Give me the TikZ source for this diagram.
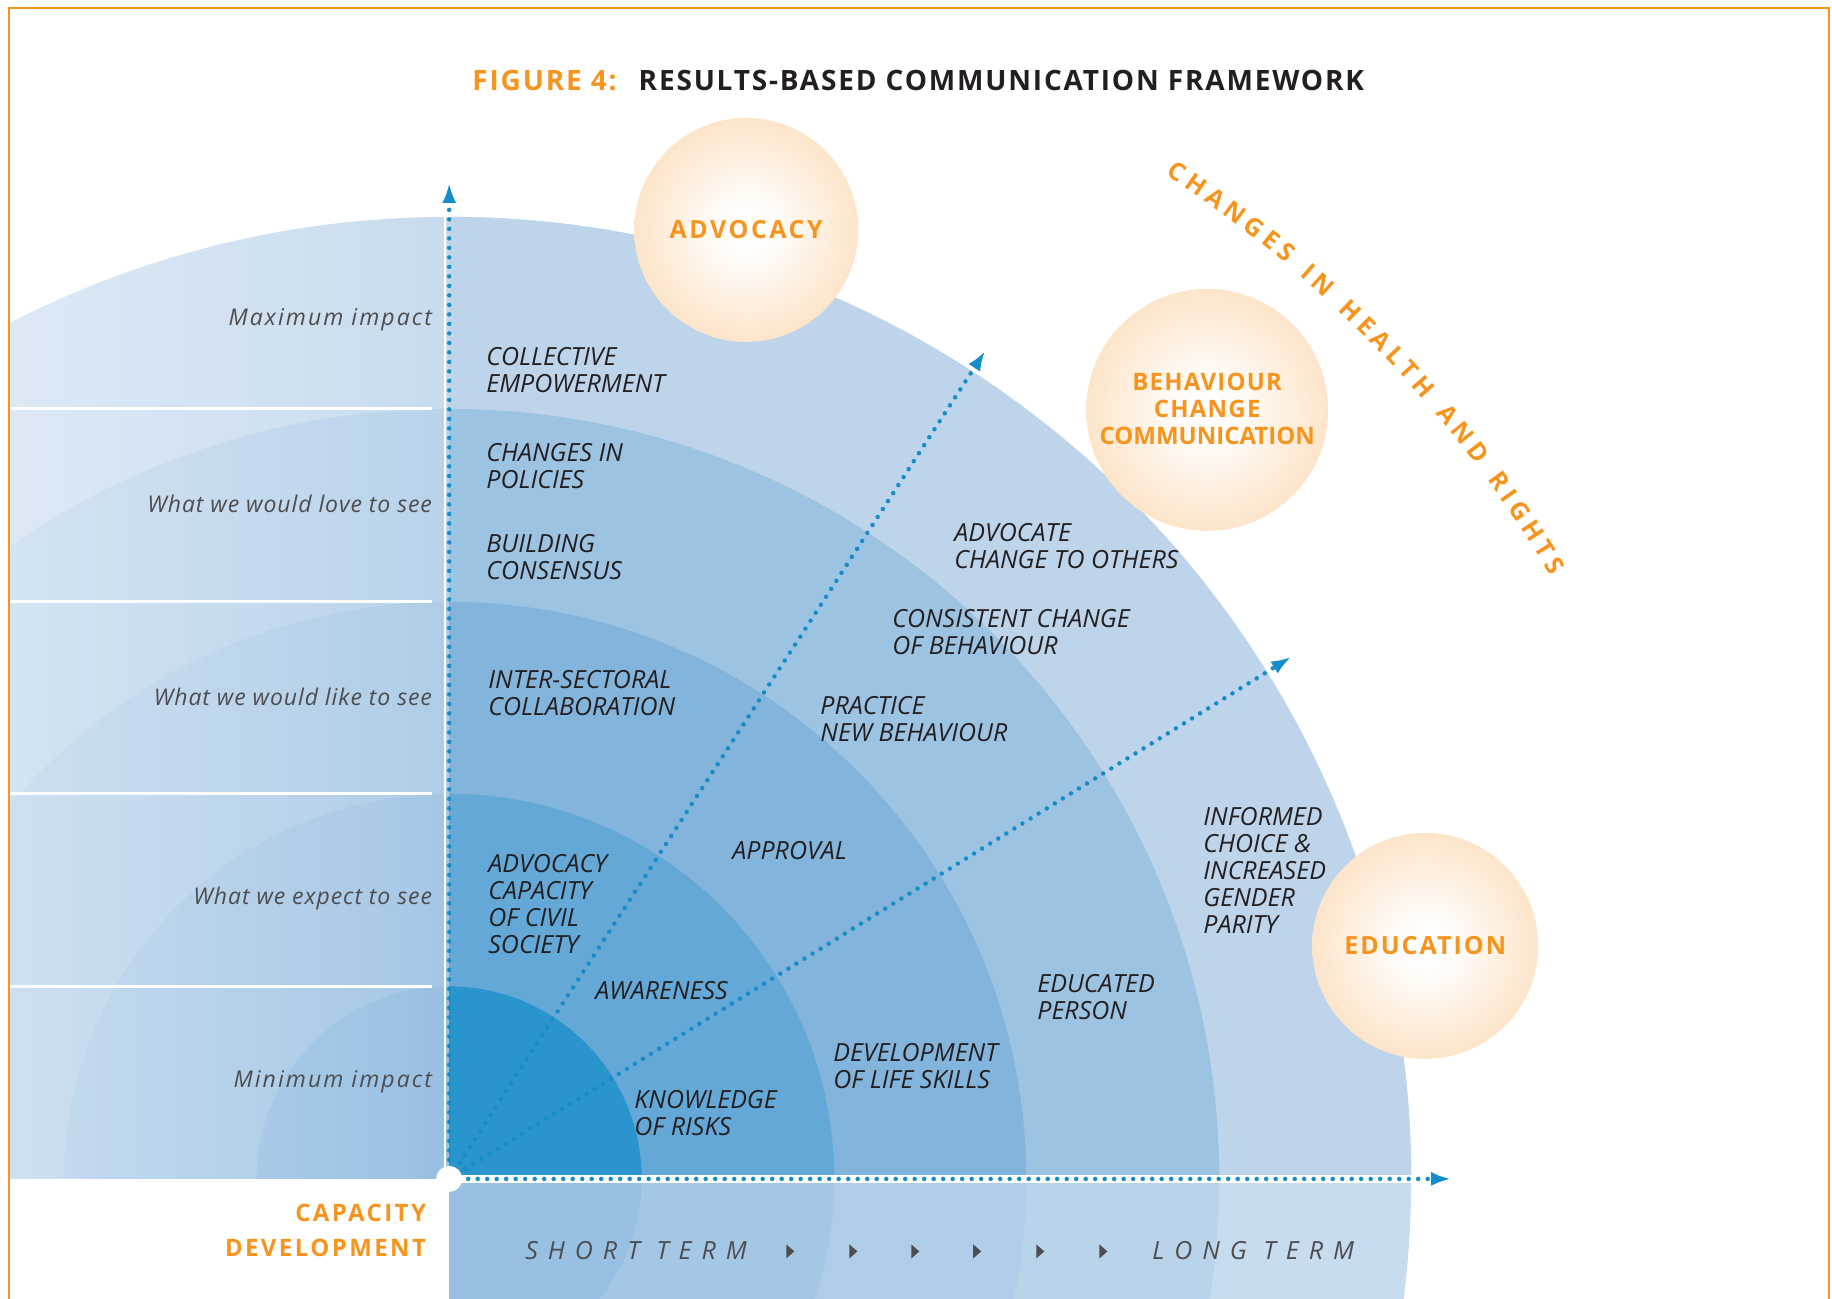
\documentclass[tikz,border=0pt]{standalone}
\usepackage{fontspec}
\setmainfont{Open Sans}
\newfontfamily\stagefont{Open Sans}
\newfontfamily\impactfont[LetterSpace=4]{Open Sans}
\newfontfamily\ballfont[LetterSpace=5]{Open Sans}
\newfontfamily\titlefont[LetterSpace=6.5]{Open Sans}
\newfontfamily\termfont[LetterSpace=40]{Open Sans}
\usepackage{tikz}
\usetikzlibrary{fadings}
\usetikzlibrary{calc}
\usetikzlibrary{arrows.meta}
\usetikzlibrary{decorations.text}
\tikzset{>={Latex[length=20pt,width=14pt]}}

\definecolor{ringA}{RGB}{42,149,204}
\definecolor{ringB}{RGB}{99,168,214}
\definecolor{ringC}{RGB}{131,180,219}
\definecolor{ringD}{RGB}{157,195,227}
\definecolor{ringE}{RGB}{189,212,234}
\definecolor{paleA}{RGB}{152,192,227}
\definecolor{paleB}{RGB}{165,199,230}
\definecolor{paleC}{RGB}{175,205,232}
\definecolor{paleD}{RGB}{185,211,235}
\definecolor{paleE}{RGB}{200,220,239}
\definecolor{dotblue}{RGB}{20,141,201}
\definecolor{unorange}{RGB}{247,148,29}
\definecolor{ballrim}{RGB}{251,197,137}
\definecolor{impactgray}{RGB}{77,77,79}
\definecolor{stageblack}{RGB}{35,31,32}

\pgfdeclareradialshading{ballshade}{\pgfpoint{0bp}{0bp}}{color(0bp)=(white); color(6bp)=(white!96!ballrim); color(50bp)=(ballrim)}

\tikzset{
	stage/.style={anchor=west, inner sep=0pt, align=left, text=stageblack,
		font=\stagefont\itshape\fontsize{25}{27}\selectfont},
	impact/.style={anchor=east, inner sep=0pt, text=impactgray,
		font=\impactfont\itshape\fontsize{23}{27}\selectfont},
	wideimpact/.style={impact, font=\impactfont\itshape\fontsize{23}{27}\selectfont\addfontfeature{LetterSpace=9}},
	ball/.style={circle, shading=ballshade, inner sep=0pt, align=center, text=unorange,
		font=\ballfont\bfseries\fontsize{24}{27}\selectfont},
	dotarrow/.style={->, dotblue, line width=4.5pt, line cap=round, dash pattern=on 0pt off 9.5pt},
	term/.style={anchor=west, inner sep=0pt, text=impactgray,
		font=\termfont\itshape\fontsize{25}{27}\selectfont}
}

\begin{document}
\begin{tikzpicture}[x=1pt,y=1pt]
	\useasboundingbox (-449.2,-120.1) rectangle (1382.8,1178.9);
	\begin{scope}
		\clip (-440,-121) rectangle (1380,1171);
		\foreach \r/\c in {962/paleE,770/paleD,577/paleC,385/paleB,192.5/paleA} {
			\fill[\c] (0,0) circle (\r);
		}
		\fill[white, path fading=east, fill opacity=0.38] (-440,0) rectangle (0,1000);
		\fill[white] (-450,-121) rectangle (0,0);
		\begin{scope}
			\clip (0,0) rectangle (1000,1000);
			\foreach \r/\c in {962/ringE,770/ringD,577/ringC,385/ringB,192.5/ringA} {
				\fill[\c] (0,0) circle (\r);
			}
		\end{scope}
	\end{scope}
	\foreach \h in {192.5,385,577,770} {
		\draw[white, line width=3pt] (-440,\h) -- (-17,\h);
	}
	% frame
	\draw[unorange, line width=1.5pt] (-440,-121) -- (-440,1171) -- (1380,1171) -- (1380,-121);

	% axes and arrows
	\coordinate (o) at (0,0);
	\coordinate (up) at (0,996);
	\coordinate (long) at (1002,0);
	\coordinate (steep) at (536,828);
	\coordinate (flat) at (842,522);
	\draw[white, line width=2pt] (-4,0) -- (-4,985);
	\draw[white, line width=8pt] (o) -- (990,0);
	\foreach \t in {up,long,steep,flat} {
		\draw[dotarrow] (o) -- (\t);
	}
	\fill[white] (o) circle (13);

	% title
	\node[font=\titlefont\bfseries\fontsize{28}{30}\selectfont, text=stageblack] (title) at (469,1098)
		{\textcolor{unorange}{FIGURE 4:}\hspace{22pt}RESULTS-BASED COMMUNICATION FRAMEWORK};

	% approaches
	\node[ball, minimum size=224pt, font=\ballfont\bfseries\fontsize{25}{27}\selectfont\addfontfeature{LetterSpace=10}]
		(advocacy) at (297,949) {\raisebox{-4pt}{ADVOCACY}};
	\node[ball, minimum size=242pt] (bcc) at (758,769)
		{\raisebox{3pt}{BEHAVIOUR}\\\raisebox{3pt}{CHANGE}\\\raisebox{3pt}{\addfontfeature{LetterSpace=0}COMMUNICATION}};
	\node[ball, minimum size=226pt, font=\ballfont\bfseries\fontsize{25}{27}\selectfont\addfontfeature{LetterSpace=8}]
		(education) at (976,233) {\raisebox{-2pt}{EDUCATION}};

	\path[decorate, decoration={text along path, text align=fit to path, text color=unorange,
		text={|\ballfont\bfseries\fontsize{25}{28}\selectfont|CHANGES IN HEALTH AND RIGHTS}}]
		($(40,-30)+(56.8:1236)$) arc[start angle=56.8, end angle=30.8, radius=1236];

	% impact levels
	\node[wideimpact] (maximum) at (-17,859) {Maximum impact};
	\node[impact] (love) at (-17,675) {What we would love to see};
	\node[impact] (like) at (-17,482) {What we would like to see};
	\node[impact] (expect) at (-17,280) {What we expect to see};
	\node[wideimpact] (minimum) at (-17,97) {Minimum impact};

	% results
	\node[stage] (empower) at (37,809) {COLLECTIVE\\EMPOWERMENT};
	\node[stage] (policies) at (37,713) {CHANGES IN\\POLICIES};
	\node[stage] (consensus) at (37,622) {BUILDING\\CONSENSUS};
	\node[stage] (intersect) at (39,486) {INTER-SECTORAL\\COLLABORATION};
	\node[stage] (civil) at (39,275) {ADVOCACY\\CAPACITY\\OF CIVIL\\SOCIETY};
	\node[stage] (awareness) at (146,188) {AWARENESS};
	\node[stage] (risks) at (185,66) {KNOWLEDGE\\OF RISKS};
	\node[stage] (approval) at (283,328) {APPROVAL};
	\node[stage] (practice) at (371,460) {PRACTICE\\NEW BEHAVIOUR};
	\node[stage] (consistent) at (443,547) {CONSISTENT CHANGE\\OF BEHAVIOUR};
	\node[stage] (others) at (505,633) {ADVOCATE\\CHANGE TO OTHERS};
	\node[stage] (skills) at (384,113) {DEVELOPMENT\\OF LIFE SKILLS};
	\node[stage] (educated) at (588,182) {EDUCATED\\PERSON};
	\node[stage] (informed) at (754,308) {INFORMED\\CHOICE \&\\INCREASED\\GENDER\\PARITY};

	% time line
	\node[anchor=east, align=right, inner sep=0pt, text=unorange,
		font=\ballfont\bfseries\fontsize{24}{35}\selectfont\addfontfeature{LetterSpace=10}] (capdev) at (-23,-52) {CAPACITY\\DEVELOPMENT};
	\node[term] (short) at (76,-72) {SHORT TERM};
	\node[term] (longterm) at (703,-72) {LONG TERM};
	\foreach \x in {340.6,403.7,465.6,527.5,590.6,653.7} {
		\fill[impactgray] (\x-3.5,-79.5) -- (\x-3.5,-65.5) -- (\x+4.5,-72.5) -- cycle;
	}
\end{tikzpicture}
\end{document}
